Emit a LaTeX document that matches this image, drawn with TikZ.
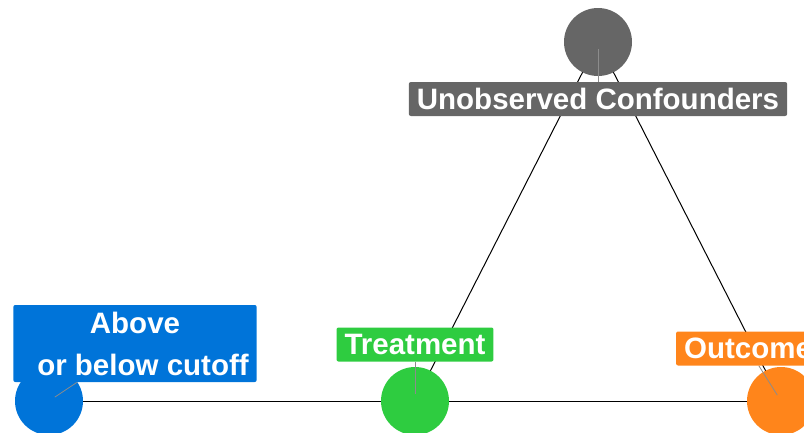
\documentclass[tikz,border=0pt]{standalone}
\usepackage{fontspec}
\setmainfont{Liberation Sans}
\usepackage{tikz}
\usetikzlibrary{positioning,calc}
\usepackage{xcolor}
\definecolor{conf}{HTML}{666666}
\definecolor{cut}{HTML}{0074D9}
\definecolor{treat}{HTML}{2ECC40}
\definecolor{outc}{HTML}{FF851B}
\definecolor{seg}{HTML}{8C8C8C}
\pgfdeclarelayer{front}
\pgfsetlayers{main,front}

\begin{document}
\begin{tikzpicture}[
  x=1pt,y=-1pt,
  dot/.style={circle,inner sep=0pt,minimum size=68pt},
  lab/.style={rounded corners=2pt,text=white,inner xsep=8pt,inner ysep=0pt,
    minimum height=34pt,font=\fontsize{29.5}{42}\selectfont\bfseries},
  edge/.style={draw=black,line width=1pt},
  lead/.style={draw=seg,line width=0.8pt,shorten >=7pt}]
  \useasboundingbox (0,0) rectangle (804,432);
  \coordinate (pU) at (598,42);
  \coordinate (pA) at (49,401);
  \coordinate (pT) at (415,401);
  \coordinate (pO) at (781,401);
  % edges
  \draw[edge] (pU)--(pT); \draw[edge] (pU)--(pO);
  \draw[edge] (pA)--(pT); \draw[edge] (pT)--(pO);
  % nodes
  \node[dot,fill=conf] (U) at (pU) {};
  \node[dot,fill=cut] (A) at (pA) {};
  \node[dot,fill=treat] (T) at (pT) {};
  \node[dot,fill=outc] (O) at (pO) {};
  % labels
  \begin{pgfonlayer}{front}
  \node[lab,fill=conf] (lU) at (598,99) {Unobserved Confounders};
  \node[lab,fill=cut,align=center,minimum width=242pt,minimum height=77pt] (lA) at (135,343.5) {Above\\\hspace*{16pt}or below cutoff};
  \node[lab,fill=treat] (lT) at (415,344.5) {Treatment};
  \node[lab,fill=outc] (lO) at (748,348.5) {Outcome};
  \end{pgfonlayer}
  \draw[lead] (lU)--(U.center);
  \draw[lead] (lA)--(A.center);
  \draw[lead] (lT)--(T.center);
  \draw[lead] (lO)--(O.center);
\end{tikzpicture}
\end{document}
